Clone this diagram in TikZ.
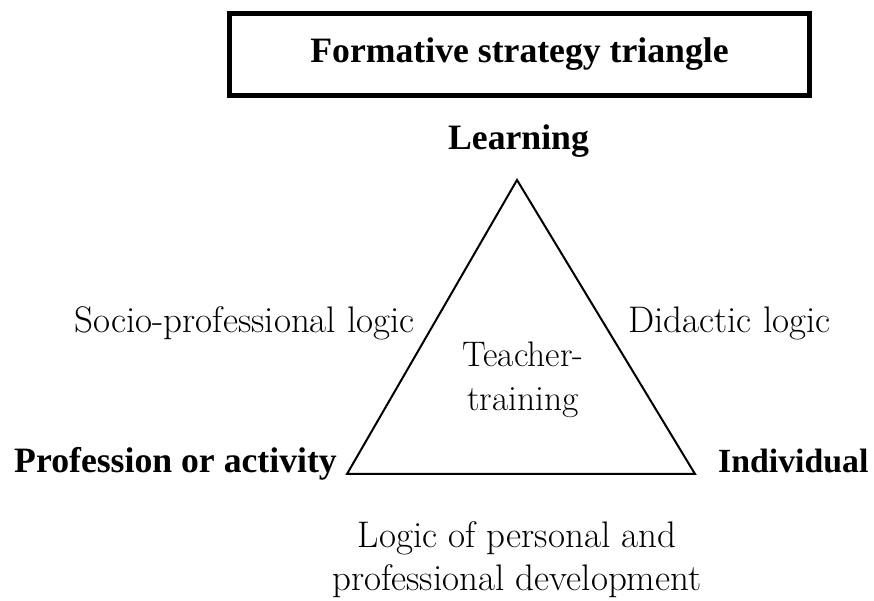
\documentclass[tikz,border=0pt]{standalone}
\usepackage{fontspec}
\setmainfont{Latin Modern Roman}[BoldFont={Liberation Serif Bold}]
\begin{document}
\begin{tikzpicture}[x=1pt,y=1pt,
  lbl/.style={inner sep=0pt,anchor=base,font=\fontsize{37}{43}\selectfont},
  blbl/.style={inner sep=0pt,anchor=base,font=\fontsize{35.7}{42}\selectfont\bfseries},
  edge/.style={line width=2pt,line join=miter}]
\useasboundingbox (0,0) rectangle (874,601);
\node[draw,line width=4.5pt,minimum width=580pt,minimum height=82pt,inner sep=0pt,
  font=\fontsize{35.7}{42}\selectfont\bfseries] (title) at (519.5,546.5) {Formative strategy triangle};
\coordinate (top) at (517,421);
\coordinate (left) at (347,127);
\coordinate (right) at (695,127);
\draw[edge] (top) -- (left) -- (right) -- cycle;
\node[blbl] (learning) at (518.5,451) {Learning};
\node[blbl,anchor=base east] (prof) at (337,128.5) {Profession or activity};
\node[blbl,anchor=base west,font=\fontsize{33.8}{40}\selectfont\bfseries] (indiv) at (718,128.5) {Individual};
\node[lbl,anchor=base east] (socio) at (415,268) {Socio-professional logic};
\node[lbl,anchor=base west] (didac) at (628,268) {Didactic logic};
\node[lbl,align=center,font=\fontsize{35.5}{44}\selectfont] (teach) at (523,190) {Teacher-\\training};
\node[lbl,align=center] (logic) at (517,10) {Logic of personal and\\professional development};
\end{tikzpicture}
\end{document}
